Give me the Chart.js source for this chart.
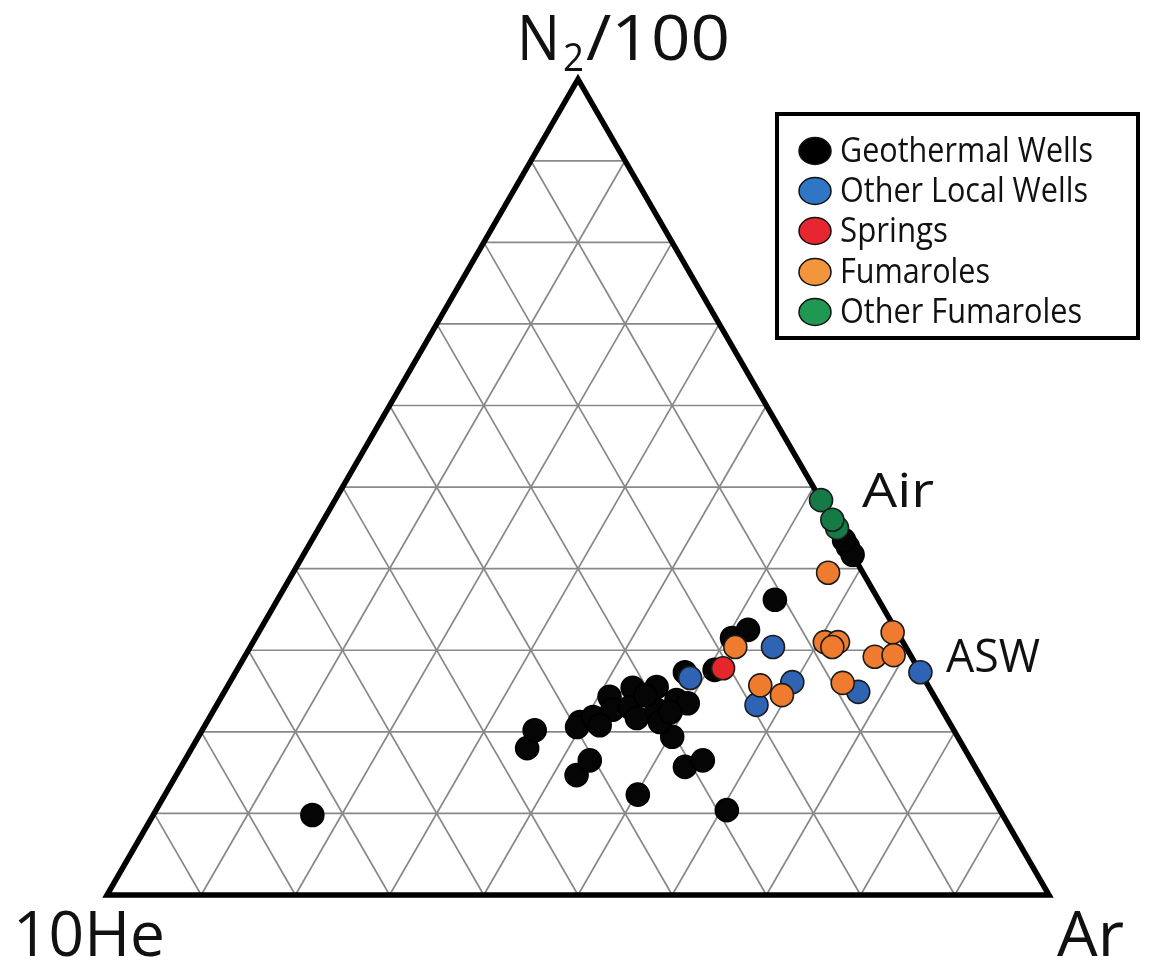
<!DOCTYPE html>
<html>
<head>
<meta charset="utf-8">
<script src="https://cdn.jsdelivr.net/npm/chart.js@4.4.1/dist/chart.umd.min.js"></script>
<style>
  html, body { margin: 0; padding: 0; background: #fff; }
  #wrap { width: 1150px; height: 964px; }
</style>
</head>
<body>
<div id="wrap"><canvas id="chart" width="1150" height="964"></canvas></div>
<script>
// Gas compositions in percent of the ternary sum: 10He, N2/100, Ar
const geoHe = [73.3, 46.4, 44.5, 42.8, 40.5, 37.5, 30.8, 28.5, 29.0, 30.3, 39.2, 39.8, 37.5, 34.5, 35.0, 31.5, 33.0, 32.9, 28.9, 30.3, 30.7, 27.6, 26.6, 25.0, 21.7, 17.9, 15.7, 11.0, 0.0, 0.0, 0.0, 30.6, 37.3, 29.0];
const geoN2 = [9.8, 18.0, 20.2, 14.7, 16.5, 12.3, 15.7, 16.5, 10.4, 19.4, 21.2, 20.6, 21.8, 24.3, 22.7, 25.4, 23.0, 21.7, 25.5, 22.7, 21.2, 23.9, 23.5, 27.3, 27.6, 31.5, 32.5, 36.2, 42.7, 41.7, 43.5, 24.5, 20.8, 22.4];
const geoAr = [16.9, 35.6, 35.3, 42.5, 43.0, 50.2, 53.5, 55.0, 60.6, 50.3, 39.6, 39.6, 40.7, 41.2, 42.3, 43.1, 44.0, 45.4, 45.6, 47.0, 48.1, 48.5, 49.9, 47.7, 50.7, 50.6, 51.8, 52.8, 57.3, 58.3, 56.5, 44.9, 41.9, 48.6];

const localHe = [24.8, 14.1, 14.2, 19.4, 7.8, 0.0];
const localN2 = [26.6, 30.4, 26.1, 23.3, 24.9, 27.3];
const localAr = [48.6, 55.5, 59.7, 57.3, 67.3, 72.7];

const springHe = [20.7];
const springN2 = [27.8];
const springAr = [51.5];

const fumHe = [18.1, 17.8, 16.1, 3.7, 8.3, 6.9, 7.8, 0.5, 3.9, 1.8, 8.9];
const fumN2 = [30.4, 25.7, 24.5, 39.5, 31.0, 31.0, 30.4, 32.2, 29.2, 29.4, 26.0];
const fumAr = [51.5, 56.5, 59.4, 56.8, 60.7, 62.1, 61.8, 67.3, 66.9, 68.8, 65.1];

const otherFumHe = [0.0, 0.0, 0.0];
const otherFumN2 = [48.4, 45.0, 46.0];
const otherFumAr = [51.6, 55.0, 54.0];

const seriesNames = ['Geothermal Wells', 'Other Local Wells', 'Springs', 'Fumaroles', 'Other Fumaroles'];

// Grid every 10 %
const gridSteps = [10, 20, 30, 40, 50, 60, 70, 80, 90];

// Apex and corner labels
const apexLabel = ['N', '2', '/100'];
const leftLabel = '10He';
const rightLabel = 'Ar';
const refLabels = ['Air', 'ASW'];

// Ternary -> cartesian (He at origin, Ar at x = 1, N2 at apex)
const SQ3 = Math.sqrt(3) / 2;
function toXY(he, n2, ar) {
  const s = he + n2 + ar;
  const n = n2 / s, a = ar / s;
  return { x: a + n / 2, y: n * SQ3 };
}
function points(he, n2, ar) {
  return he.map((h, i) => toXY(h, n2[i], ar[i]));
}

// Placement of the triangle on the canvas (pixels)
const W = 1150, H = 964, SIDE = 942, LEFT = 107, BASE = 895;

const styles = [
  { fill: '#050505', edge: '#000000', key: '#000000', order: 4 },
  { fill: '#2f63b3', edge: '#1a1a1a', key: '#2f77c4', order: 3 },
  { fill: '#e5262b', edge: '#1a1a1a', key: '#e62630', order: 2 },
  { fill: '#ee7b2e', edge: '#1a1a1a', key: '#f3953c', order: 1 },
  { fill: '#157a46', edge: '#1a1a1a', key: '#1f9852', order: 0 }
];
const seriesData = [
  points(geoHe, geoN2, geoAr),
  points(localHe, localN2, localAr),
  points(springHe, springN2, springAr),
  points(fumHe, fumN2, fumAr),
  points(otherFumHe, otherFumN2, otherFumAr)
];

const datasets = seriesData.map((d, i) => ({
  label: seriesNames[i],
  data: d,
  order: styles[i].order,
  pointRadius: 11.5,
  pointHoverRadius: 11.5,
  pointBackgroundColor: styles[i].fill,
  pointBorderColor: styles[i].edge,
  pointBorderWidth: 1.6,
  showLine: false
}));

function px(chart, he, n2, ar) {
  const p = toXY(he, n2, ar);
  return [chart.scales.x.getPixelForValue(p.x), chart.scales.y.getPixelForValue(p.y)];
}

// Ternary grid and frame, under the points
const ternaryFrame = {
  id: 'ternaryFrame',
  beforeDatasetsDraw(chart) {
    const ctx = chart.ctx;
    ctx.save();
    ctx.strokeStyle = '#888888';
    ctx.lineWidth = 1.7;
    gridSteps.forEach(k => {
      const segs = [
        [[100 - k, k, 0], [0, k, 100 - k]],
        [[100 - k, 0, k], [0, 100 - k, k]],
        [[k, 100 - k, 0], [k, 0, 100 - k]]
      ];
      segs.forEach(([a, b]) => {
        const p1 = px(chart, ...a), p2 = px(chart, ...b);
        ctx.beginPath();
        ctx.moveTo(p1[0], p1[1]);
        ctx.lineTo(p2[0], p2[1]);
        ctx.stroke();
      });
    });
    const c1 = px(chart, 100, 0, 0), c2 = px(chart, 0, 0, 100), c3 = px(chart, 0, 100, 0);
    ctx.strokeStyle = '#000';
    ctx.lineWidth = 5.5;
    ctx.lineJoin = 'miter';
    ctx.beginPath();
    ctx.moveTo(c1[0], c1[1]);
    ctx.lineTo(c2[0], c2[1]);
    ctx.lineTo(c3[0], c3[1]);
    ctx.closePath();
    ctx.stroke();
    ctx.restore();
  }
};

function fitText(ctx, text, left, baseline, width, size) {
  ctx.save();
  ctx.font = size + 'px "Open Sans", "Noto Sans", sans-serif';
  ctx.textAlign = 'left';
  ctx.textBaseline = 'alphabetic';
  const w = ctx.measureText(text).width;
  ctx.translate(left, baseline);
  ctx.scale(width / w, 1);
  ctx.fillText(text, 0, 0);
  ctx.restore();
}

// Axis names, reference points and the key box
const annotations = {
  id: 'annotations',
  afterDraw(chart) {
    const ctx = chart.ctx;
    ctx.save();
    ctx.fillStyle = '#111';
    fitText(ctx, apexLabel[0], 517, 60, 43, 63);
    fitText(ctx, apexLabel[1], 563, 71, 21, 38);
    fitText(ctx, apexLabel[2], 586, 60, 144, 63);
    fitText(ctx, leftLabel, 13, 956, 152, 63);
    fitText(ctx, rightLabel, 1057, 956, 67, 63);
    fitText(ctx, refLabels[0], 862, 507, 72, 47);
    fitText(ctx, refLabels[1], 946, 672, 94, 46);

    // key box
    ctx.fillStyle = '#fff';
    ctx.fillRect(777, 114, 361, 224);
    ctx.strokeStyle = '#000';
    ctx.lineWidth = 4;
    ctx.strokeRect(777, 114, 361, 224);
    const rowY = [151, 191, 231, 272, 312];
    const textW = [253, 248, 108, 150, 242];
    chart.data.datasets.forEach((ds, i) => {
      ctx.beginPath();
      ctx.ellipse(815, rowY[i], 16, 13.5, 0, 0, Math.PI * 2);
      ctx.fillStyle = styles[i].key;
      ctx.fill();
      ctx.lineWidth = 1.5;
      ctx.strokeStyle = '#111';
      ctx.stroke();
      ctx.fillStyle = '#111';
      fitText(ctx, ds.label, 840, rowY[i] + 11, textW[i], 35);
    });
    ctx.restore();
  }
};

new Chart(document.getElementById('chart').getContext('2d'), {
  type: 'scatter',
  data: { datasets },
  options: {
    responsive: false,
    animation: false,
    devicePixelRatio: 1,
    layout: { padding: 0, autoPadding: false },
    plugins: { legend: { display: false }, tooltip: { enabled: false } },
    scales: {
      x: { type: 'linear', display: false, min: -LEFT / SIDE, max: (W - LEFT) / SIDE },
      y: { type: 'linear', display: false, min: -(H - BASE) / SIDE, max: BASE / SIDE }
    }
  },
  plugins: [ternaryFrame, annotations]
});
</script>
</body>
</html>
